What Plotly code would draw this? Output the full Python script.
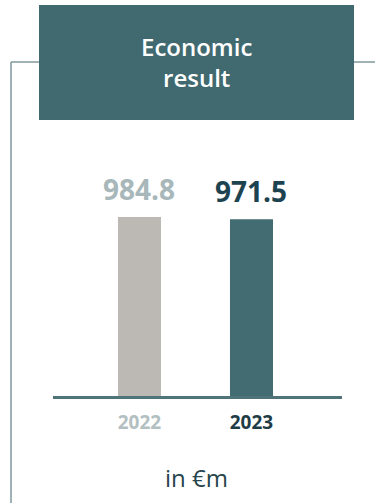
import plotly.graph_objects as go

# Data
years = ["2022", "2023"]
values = [984.8, 971.5]
value_labels = ["984.8", "971.5"]

# Styling
bar_colors = ["#BCB8B3", "#436B72"]
value_colors = ["#A7B7BA", "#1D4350"]
year_colors = ["#B3C0C2", "#1E3C46"]
header_color = "#416A70"
frame_color = "#7F999C"
axis_color = "#4F7379"
FONT = "Open Sans"

W, H = 375, 503
L, R, T, B = 53, 342, 130, 396  # plot area in pixels


def px(x):
    return (x - L) / (R - L)


def py(y):
    return (B - y) / (B - T)


fig = go.Figure(
    go.Bar(
        x=years,
        y=values,
        marker=dict(color=bar_colors, line=dict(width=0)),
        width=0.384,
        hoverinfo="skip",
    )
)

# value labels above bars (category axes take the serial index)
for i, (v, lab, c) in enumerate(zip(values, value_labels, value_colors)):
    fig.add_annotation(
        x=i, y=v, xref="x", yref="y", text=f"<b>{lab}</b>",
        showarrow=False, yanchor="middle", yshift=28,
        font=dict(family=FONT, size=28, color=c),
    )

shapes = [
    # frame lines
    dict(type="line", xref="paper", yref="paper", x0=px(11), x1=px(11), y0=py(62), y1=py(503),
         line=dict(color=frame_color, width=1.5)),
    dict(type="line", xref="paper", yref="paper", x0=px(11), x1=px(39), y0=py(62), y1=py(62),
         line=dict(color=frame_color, width=1.5)),
    dict(type="line", xref="paper", yref="paper", x0=px(354), x1=px(375), y0=py(62), y1=py(62),
         line=dict(color=frame_color, width=1.5)),
    # header box
    dict(type="rect", xref="paper", yref="paper", x0=px(39), x1=px(354), y0=py(120), y1=py(5),
         fillcolor=header_color, line=dict(width=0), layer="above"),
]

fig.add_annotation(
    x=px(196.5), y=py(62), xref="paper", yref="paper",
    text="Economic<br>result", showarrow=False, yanchor="middle",
    font=dict(family=FONT, size=24, color="white", weight=600),
)
fig.add_annotation(
    x=px(196.5), y=py(477), xref="paper", yref="paper",
    text="in €m", showarrow=False, yanchor="middle",
    font=dict(family=FONT, size=24, color="#26454C"),
)

ticktext = [f"<b><span style='color:{c}'>{y}</span></b>" for y, c in zip(years, year_colors)]

fig.update_layout(
    width=W, height=H,
    margin=dict(l=L, r=W - R, t=T, b=H - B, pad=0),
    paper_bgcolor="white", plot_bgcolor="white",
    showlegend=False,
    shapes=shapes,
    xaxis=dict(
        type="category", range=[-0.772, 1.808], tickvals=years, ticktext=ticktext,
        showline=True, linecolor=axis_color, linewidth=2.5, ticks="",
        showgrid=False, zeroline=False, ticklabelstandoff=7,
        tickfont=dict(family=FONT, size=19),
    ),
    yaxis=dict(range=[0, 1463], visible=False, showgrid=False, zeroline=False),
)

fig.write_html("out.html", config={"displayModeBar": False})
